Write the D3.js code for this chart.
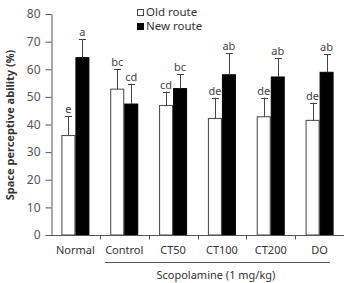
<!DOCTYPE html>
<html>
<head>
<meta charset="utf-8">
<script src="https://cdn.jsdelivr.net/npm/d3@7"></script>
<style>
  body { margin: 0; background: #fff; }
  text { font-family: "Noto Sans", sans-serif; fill: #333; }
</style>
</head>
<body>
<svg id="chart" width="344" height="283"></svg>
<script>
'use strict';

var groups = ['Normal', 'Control', 'CT50', 'CT100', 'CT200', 'DO'];
var series = ['Old route', 'New route'];
var oldRoute = [36, 52.8, 46.9, 42.2, 42.8, 41.5];
var newRoute = [64.2, 47.4, 53, 58, 57.2, 58.9];
var oldErr = [6.9, 7.2, 5.0, 7.5, 6.9, 6.4];
var newErr = [6.7, 7.3, 5.2, 7.8, 6.8, 6.6];
var oldLetters = ['e', 'bc', 'cd', 'de', 'de', 'de'];
var newLetters = ['a', 'cd', 'bc', 'ab', 'ab', 'ab'];
var yTicks = [0, 10, 20, 30, 40, 50, 60, 70, 80];

var svg = d3.select('#chart');
var plotLeft = 51, plotRight = 344, plotTop = 14, plotBottom = 235;

var x = d3.scaleBand().domain(groups).range([plotLeft, plotRight]).padding(0);
var x1 = d3.scaleBand().domain(series).range([0, x.bandwidth()])
    .paddingInner(0).paddingOuter(0.744);
var y = d3.scaleLinear().domain([0, 80]).range([plotBottom, plotTop]);

var rows = [];
groups.forEach(function (g, i) {
    rows.push({ group: g, s: series[0], v: oldRoute[i], e: oldErr[i], t: oldLetters[i] });
    rows.push({ group: g, s: series[1], v: newRoute[i], e: newErr[i], t: newLetters[i] });
});

function mid(d) {
    return Math.round(x(d.group) + x1(d.s) + x1.bandwidth() / 2);
}

// bars
svg.append('g').selectAll('rect')
    .data(rows)
    .enter().append('rect')
        .attr('x', function (d) { return x(d.group) + x1(d.s) + 0.5; })
        .attr('y', function (d) { return y(d.v); })
        .attr('width', x1.bandwidth() - 1)
        .attr('height', function (d) { return y(0) - y(d.v); })
        .attr('fill', function (d) { return d.s === series[0] ? '#fff' : '#000'; })
        .attr('stroke', function (d) { return d.s === series[0] ? '#444' : '#000'; })
        .attr('stroke-width', 1);

// error bars
var err = svg.append('g').attr('stroke', '#444').attr('stroke-width', 1);
err.selectAll('line.v')
    .data(rows)
    .enter().append('line')
        .attr('class', 'v')
        .attr('x1', function (d) { return mid(d) + 0.5; })
        .attr('x2', function (d) { return mid(d) + 0.5; })
        .attr('y1', function (d) { return y(d.v); })
        .attr('y2', function (d) { return y(d.v + d.e); });
err.selectAll('line.c')
    .data(rows)
    .enter().append('line')
        .attr('class', 'c')
        .attr('x1', function (d) { return mid(d) - 3; })
        .attr('x2', function (d) { return mid(d) + 4; })
        .attr('y1', function (d) { return Math.round(y(d.v + d.e)) + 0.5; })
        .attr('y2', function (d) { return Math.round(y(d.v + d.e)) + 0.5; });

// significance letters
svg.append('g').selectAll('text')
    .data(rows)
    .enter().append('text')
        .attr('x', function (d) { return x(d.group) + x1(d.s) + x1.bandwidth() / 2; })
        .attr('y', function (d) { return y(d.v + d.e) - 3; })
        .attr('text-anchor', 'middle')
        .attr('fill', '#444')
        .style('fill', '#444')
        .style('font-size', '11px')
        .text(function (d) { return d.t; });

// y axis
var yAxis = svg.append('g')
    .attr('transform', 'translate(' + (plotLeft + 0.5) + ',0)')
    .call(d3.axisLeft(y).tickValues(yTicks).tickSize(6).tickSizeOuter(0).tickPadding(5));
yAxis.selectAll('text').style('font-size', '12px').style('font-family', '"Noto Sans", sans-serif').style('fill', '#555');
yAxis.selectAll('line, path').attr('stroke', '#555');

// x axis
var xAxis = svg.append('g')
    .attr('transform', 'translate(0,' + (plotBottom + 0.5) + ')')
    .call(d3.axisBottom(x).tickSize(0).tickPadding(11));
xAxis.select('path').attr('d', 'M' + plotLeft + ',0H' + plotRight).attr('stroke', '#555');
xAxis.selectAll('text').style('font-size', '11px').style('font-family', '"Noto Sans", sans-serif').style('fill', '#333');
xAxis.selectAll('line.sep')
    .data(groups.slice(1))
    .enter().append('line')
        .attr('class', 'sep')
        .attr('x1', function (g) { return Math.round(x(g)) + 0.5; })
        .attr('x2', function (g) { return Math.round(x(g)) + 0.5; })
        .attr('y1', 0)
        .attr('y2', 4)
        .attr('stroke', '#555');

// scopolamine bracket
svg.append('line')
    .attr('x1', x('Control') + 5)
    .attr('x2', x('DO') + x.bandwidth() - 14)
    .attr('y1', 262.5)
    .attr('y2', 262.5)
    .attr('stroke', '#555');
svg.append('text')
    .attr('x', (x('Control') + x('DO') + x.bandwidth()) / 2 - 6)
    .attr('y', 279)
    .attr('text-anchor', 'middle')
    .style('font-size', '11px')
    .text('Scopolamine (1 mg/kg)');

// y label
svg.append('text')
    .attr('transform', 'translate(14,125) rotate(-90)')
    .attr('text-anchor', 'middle')
    .style('font-size', '11px')
    .style('font-weight', 'bold')
    .text('Space perceptive ability (%)');

// legend
var legend = svg.append('g').selectAll('g')
    .data(series)
    .enter().append('g')
        .attr('transform', function (d, i) { return 'translate(137,' + (9 + i * 14) + ')'; });
legend.append('rect')
    .attr('x', 0.5).attr('y', 0.5)
    .attr('width', 6).attr('height', 6)
    .attr('fill', function (d, i) { return i === 0 ? '#fff' : '#000'; })
    .attr('stroke', function (d, i) { return i === 0 ? '#444' : '#000'; });
legend.append('text')
    .attr('x', 9)
    .attr('y', 7)
    .style('font-size', '11.5px')
    .text(function (d) { return d; });
</script>
</body>
</html>
